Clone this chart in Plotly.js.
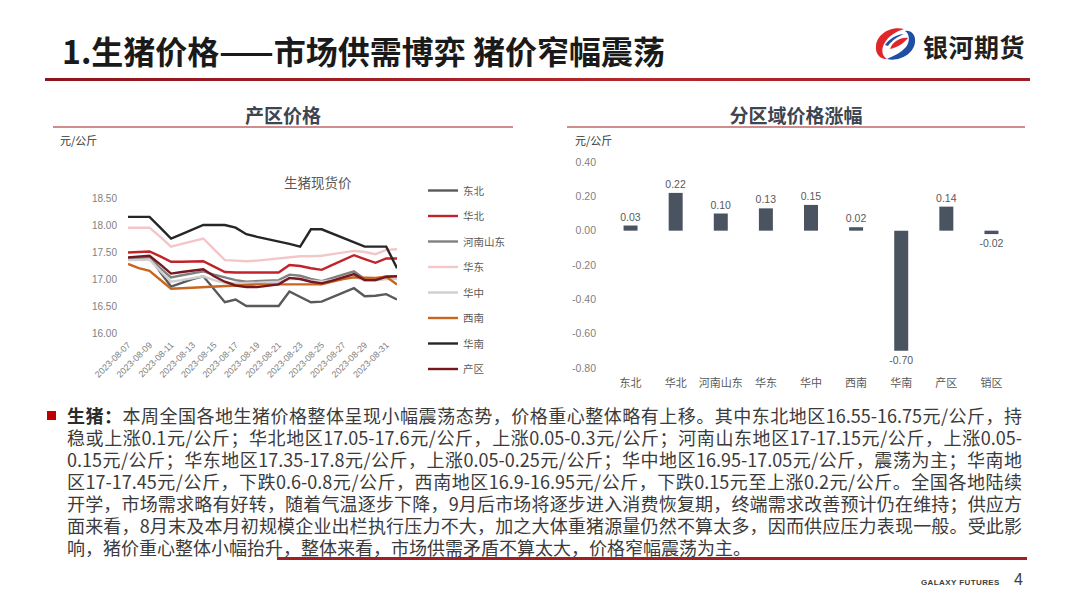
<!DOCTYPE html>
<html>
<head>
<meta charset="utf-8">
<script src="https://cdn.plot.ly/plotly-3.0.1.min.js"></script>
<style>
  html, body { margin: 0; padding: 0; background: #fff; }
  #slide { position: relative; width: 1080px; height: 608px; overflow: hidden; background: #fff;
           font-family: "Noto Sans CJK SC", "Noto Sans", sans-serif; }
  #chart { position: absolute; left: 0; top: 0; width: 1080px; height: 608px; z-index: 1; }
  .abs { position: absolute; z-index: 2; }
  .title { left: 62px; top: 31px; font-size: 32px; font-weight: 700; color: #1a1a1a; line-height: 38px; white-space: nowrap; }
  .title-rule { left: 45px; top: 78px; width: 985px; height: 3px; background: linear-gradient(90deg, #8e1519, #b3282d 60%, #a01d22); }
  .brand { left: 923px; top: 29px; font-size: 25px; font-weight: 700; color: #231f20; line-height: 34px; letter-spacing: 0.5px; }
  .sec { font-size: 19px; font-weight: 700; color: #3d4550; line-height: 24px; text-align: center; }
  .sec-rule { height: 2px; background: #cf8d90; }
  .unit { font-size: 11px; color: #333; line-height: 14px; }
  .para { left: 67px; top: 404px; width: 955px; font-size: 18px; color: #3b3b3b; }
  .para div { height: 22px; line-height: 22px; overflow: visible; white-space: nowrap; text-align: justify; text-align-last: justify; }
  .para div.last { text-align-last: left; }
  .para b { color: #2b2b2b; }
  .bullet { left: 47px; top: 411px; width: 9px; height: 9px; background: #c00000; }
  .para-rule { left: 277px; top: 557px; width: 750px; height: 3px; background: #a31f24; }
  .footer { left: 921px; top: 578px; font-family: "Liberation Sans", sans-serif; font-size: 8px; font-weight: 700; color: #404040; letter-spacing: 0.4px; }
  .page { left: 1014px; top: 571px; font-family: "Liberation Sans", sans-serif; font-size: 16px; color: #404040; }
</style>
</head>
<body>
<div id="slide">
  <div id="chart"></div>

  <div class="abs title">1.生猪价格——市场供需博弈 猪价窄幅震荡</div>
  <div class="abs title-rule"></div>

  <svg class="abs" style="left:873px;top:26px" width="44" height="36" viewBox="0 0 44 36">
    <path d="M31 3 C18 0 4 8 3 20 C2 28 8 34 14 33 C9 30 8 24 11 18 C15 10 24 5 31 3 Z" fill="#e0262b"/>
    <path d="M17 23 C20 15 28 11 35 12 C31 17 25 21 17 23 Z" fill="#e0262b"/>
    <path d="M14 33 C26 36 41 28 42 16 C43 9 38 4 32 5 C37 8 37 16 33 21 C28 27 20 30 14 33 Z" fill="#1f4fa3"/>
    <path d="M12 19 C16 13 24 8 31 8 C26 10 19 14 15 20 Z" fill="#1f4fa3"/>
  </svg>
  <div class="abs brand">银河期货</div>

  <div class="abs sec" style="left:53px;top:103px;width:460px">产区价格</div>
  <div class="abs sec-rule" style="left:53px;top:126px;width:460px"></div>
  <div class="abs unit" style="left:60px;top:133px">元/公斤</div>

  <div class="abs sec" style="left:567px;top:103px;width:458px">分区域价格涨幅</div>
  <div class="abs sec-rule" style="left:567px;top:126px;width:458px"></div>
  <div class="abs unit" style="left:575px;top:133px">元/公斤</div>

  <div class="abs bullet"></div>
  <div class="abs para">
    <div><b>生猪：</b>本周全国各地生猪价格整体呈现小幅震荡态势，价格重心整体略有上移。其中东北地区16.55-16.75元/公斤，持</div>
    <div>稳或上涨0.1元/公斤；华北地区17.05-17.6元/公斤，上涨0.05-0.3元/公斤；河南山东地区17-17.15元/公斤，上涨0.05-</div>
    <div>0.15元/公斤；华东地区17.35-17.8元/公斤，上涨0.05-0.25元/公斤；华中地区16.95-17.05元/公斤，震荡为主；华南地</div>
    <div>区17-17.45元/公斤，下跌0.6-0.8元/公斤，西南地区16.9-16.95元/公斤，下跌0.15元至上涨0.2元/公斤。全国各地陆续</div>
    <div>开学，市场需求略有好转，随着气温逐步下降，9月后市场将逐步进入消费恢复期，终端需求改善预计仍在维持；供应方</div>
    <div>面来看，8月末及本月初规模企业出栏执行压力不大，加之大体重猪源量仍然不算太多，因而供应压力表现一般。受此影</div>
    <div class="last">响，猪价重心整体小幅抬升，整体来看，市场供需矛盾不算太大，价格窄幅震荡为主。</div>
  </div>
  <div class="abs para-rule"></div>

  <div class="abs footer">GALAXY FUTURES</div>
  <div class="abs page">4</div>
</div>

<script>
// Daily hog spot prices by region (元/公斤)
const dates = [
  '2023-08-07','2023-08-08','2023-08-09','2023-08-10','2023-08-11','2023-08-12','2023-08-13',
  '2023-08-14','2023-08-15','2023-08-16','2023-08-17','2023-08-18','2023-08-19','2023-08-20',
  '2023-08-21','2023-08-22','2023-08-23','2023-08-24','2023-08-25','2023-08-26','2023-08-27',
  '2023-08-28','2023-08-29','2023-08-30','2023-08-31','2023-09-01'
];
const dongbei   = [17.38,17.40,17.41,17.13,16.86,16.93,17.00,17.05,16.80,16.57,16.62,16.50,16.50,16.50,16.50,16.77,16.67,16.57,16.58,16.66,16.75,16.83,16.68,16.69,16.72,16.62];
const huabei    = [17.49,17.50,17.51,17.42,17.32,17.32,17.33,17.33,17.23,17.13,17.12,17.12,17.12,17.12,17.12,17.26,17.24,17.20,17.17,17.26,17.35,17.44,17.37,17.30,17.38,17.38];
const henanShandong = [17.38,17.39,17.40,17.20,17.03,17.07,17.11,17.14,17.08,17.03,16.98,16.95,16.96,16.97,16.98,17.08,17.06,17.00,16.96,17.02,17.08,17.14,17.00,17.00,17.05,17.05];
const huadong   = [17.95,17.95,17.95,17.78,17.60,17.65,17.70,17.75,17.55,17.35,17.34,17.33,17.34,17.36,17.38,17.40,17.42,17.42,17.43,17.46,17.49,17.52,17.50,17.46,17.54,17.55];
const huazhong  = [17.35,17.35,17.36,17.15,16.95,16.98,17.02,17.05,16.98,16.93,16.92,16.92,16.93,16.94,16.95,17.00,17.00,16.97,16.95,16.98,17.02,17.05,16.97,16.97,17.00,17.00];
const xinan     = [17.28,17.20,17.15,16.98,16.82,16.83,16.84,16.85,16.87,16.88,16.89,16.90,16.90,16.90,16.90,16.90,16.90,16.90,16.90,16.95,17.00,17.03,17.02,17.02,17.04,16.90];
const huanan    = [18.15,18.15,18.15,17.95,17.75,17.83,17.92,18.00,18.00,18.00,17.95,17.83,17.78,17.74,17.69,17.65,17.60,17.92,17.92,17.84,17.76,17.68,17.60,17.60,17.60,17.20];
const chanqu    = [17.40,17.42,17.43,17.27,17.10,17.13,17.16,17.18,17.05,16.95,16.88,16.85,16.85,16.87,16.90,17.02,17.00,16.95,16.92,16.97,17.03,17.09,16.98,16.98,17.04,17.05];

const seriesNames = ['东北','华北','河南山东','华东','华中','西南','华南','产区'];
const seriesData  = [dongbei, huabei, henanShandong, huadong, huazhong, xinan, huanan, chanqu];
const seriesColors = ['#595959','#c0232a','#808080','#f3c6c8','#cfcfcf','#c8661f','#262626','#76161e'];

// Weekly price change by region (元/公斤)
const regions = ['东北','华北','河南山东','华东','华中','西南','华南','产区','销区'];
const weeklyChange = [0.03, 0.22, 0.10, 0.13, 0.15, 0.02, -0.70, 0.14, -0.02];

const priceTicks = [16.0, 16.5, 17.0, 17.5, 18.0, 18.5];
const changeTicks = [0.4, 0.2, 0.0, -0.2, -0.4, -0.6, -0.8];

const W = 1080, H = 608;
const px = v => v / W;
const py = v => 1 - v / H;

const traces = seriesNames.map((name, i) => ({
  type: 'scatter', mode: 'lines', name: name, legendgroup: name,
  x: dates, y: seriesData[i], xaxis: 'x', yaxis: 'y',
  line: { color: seriesColors[i], width: 2.4 },
  hoverinfo: 'skip'
}));

traces.push({
  type: 'bar', x: regions, y: weeklyChange, xaxis: 'x2', yaxis: 'y2',
  marker: { color: '#4a5360' }, width: 0.31, showlegend: false,
  text: weeklyChange.map(v => v.toFixed(2)), textposition: 'outside', constraintext: 'none',
  textfont: { size: 10.5, color: '#595959' }, cliponaxis: false, hoverinfo: 'skip'
});

const layout = {
  width: W, height: H,
  margin: { l: 0, r: 0, t: 0, b: 0 },
  paper_bgcolor: 'rgba(0,0,0,0)', plot_bgcolor: 'rgba(0,0,0,0)',
  font: { family: '"Liberation Sans", "Noto Sans CJK SC", sans-serif', color: '#595959' },
  showlegend: true,
  legend: {
    x: px(423), y: py(176), xanchor: 'left', yanchor: 'top',
    traceorder: 'grouped', tracegroupgap: 6.5,
    font: { size: 10.5, color: '#595959' }, bgcolor: 'rgba(0,0,0,0)', itemwidth: 30
  },
  xaxis: {
    domain: [px(128), px(397)], anchor: 'y', type: 'category', range: [0, 25],
    tickmode: 'array', tickvals: dates.filter((d, i) => i % 2 === 0),
    tickangle: -45, tickfont: { size: 9, color: '#7f7f7f' },
    showgrid: false, zeroline: false, showline: false, ticks: '', ticklabelstandoff: 4
  },
  yaxis: {
    domain: [py(333), py(198)], anchor: 'x', range: [16, 18.5],
    tickmode: 'array', tickvals: priceTicks, ticktext: priceTicks.map(v => v.toFixed(2)),
    tickfont: { size: 10, color: '#7f7f7f' },
    showgrid: false, zeroline: false, showline: false, ticks: '', ticklabelstandoff: 10
  },
  xaxis2: {
    domain: [px(608), px(1014)], anchor: 'y2', type: 'category', range: [-0.5, 8.5],
    tickfont: { size: 11, color: '#595959' },
    showgrid: false, zeroline: false, showline: false, ticks: '', ticklabelstandoff: 7
  },
  yaxis2: {
    domain: [py(368), py(162)], anchor: 'x2', range: [-0.8, 0.4],
    tickmode: 'array', tickvals: changeTicks, ticktext: changeTicks.map(v => v.toFixed(2)),
    tickfont: { size: 10.5, color: '#7f7f7f' },
    showgrid: false, zeroline: false, showline: false, ticks: '', ticklabelstandoff: 11
  },
  annotations: [{
    text: '生猪现货价', xref: 'paper', yref: 'paper', x: px(282), y: py(173),
    showarrow: false, font: { size: 13.5, color: '#595959' }
  }]
};

Plotly.newPlot('chart', traces, layout, { staticPlot: true, displayModeBar: false });
</script>
</body>
</html>
